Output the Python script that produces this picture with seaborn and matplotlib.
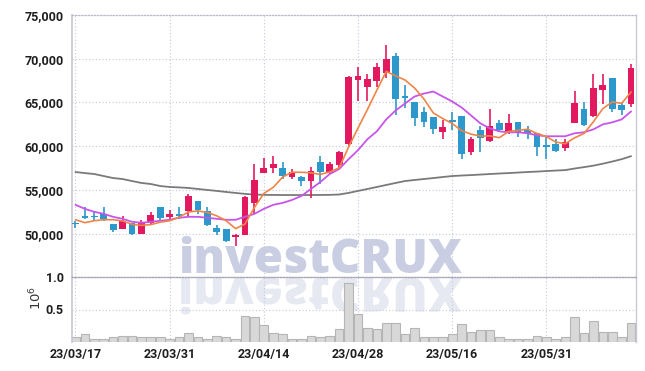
import numpy as np
import pandas as pd
import matplotlib
matplotlib.use("Agg")
import matplotlib.pyplot as plt
import seaborn as sns
from matplotlib.textpath import TextPath
from matplotlib.patches import PathPatch
from matplotlib.font_manager import FontProperties
from matplotlib.transforms import Affine2D, IdentityTransform
from matplotlib.ticker import FuncFormatter

# ---------------- data ----------------
tick_pos = [0, 10, 20, 30, 40, 50]
tick_labels = ["23/03/17", "23/03/31", "23/04/14", "23/04/28", "23/05/16", "23/05/31"]

opens = [51150, 52000, 51950, 52300, 51100, 50500, 51250, 50000, 51250, 53000,
         51950, 52200, 52600, 53700, 52600, 50700, 50550, 49600, 49900, 53500,
         56900, 57500, 57500, 56500, 56500, 56000, 58200, 57100, 57800, 60300,
         67600, 66800, 67500, 68400, 70300, 65700, 65100, 63900, 63300, 61600,
         63000, 63500, 59300, 61900, 60600, 62600, 61600, 62800, 61900, 61500,
         60100, 60200, 59800, 62600, 64300, 63400, 66400, 67800, 64700, 64800]
highs = [51400, 53000, 52600, 53000, 51100, 52000, 51250, 51600, 52500, 53000,
         52700, 53000, 54500, 53700, 53000, 51000, 50550, 50000, 54300, 58000,
         58600, 58900, 58200, 57400, 56600, 57600, 58900, 58200, 59500, 68000,
         69100, 68300, 69500, 71600, 70700, 67000, 65100, 64500, 63300, 63000,
         63900, 63500, 61000, 62300, 64200, 63000, 63700, 62800, 62300, 61500,
         61100, 60800, 60800, 66300, 65000, 68200, 68200, 67800, 65100, 69400]
lows = [50700, 51700, 51400, 51500, 50200, 50500, 49800, 50000, 51000, 51600,
        51700, 51700, 52000, 52300, 50900, 49900, 49100, 48600, 49900, 52300,
        56900, 56900, 56200, 56200, 55500, 54100, 55700, 56800, 57500, 60000,
        65200, 65200, 66800, 67800, 63600, 64400, 62300, 62200, 61400, 60800,
        61900, 58500, 59000, 59300, 60500, 61600, 61400, 61000, 60800, 58900,
        58500, 59300, 59400, 62600, 62300, 63300, 64800, 63900, 63600, 64500]
closes = [51100, 51850, 51900, 51700, 50400, 51400, 50000, 51250, 52150, 51800,
          52200, 52000, 54300, 52700, 51000, 50200, 49200, 49800, 54200, 56100,
          57500, 58000, 56600, 57000, 56000, 57200, 57100, 58000, 59300, 67900,
          68000, 67700, 69100, 70000, 65400, 65550, 63200, 62800, 62000, 62200,
          62800, 59100, 60800, 60900, 62300, 61800, 62600, 61500, 61500, 59900,
          59950, 59500, 60500, 64900, 62400, 66700, 67000, 64300, 64100, 68900]

ma_short = [51600, 51260, 51480, 51600, 51600, 51460, 51080, 50950, 51040, 51320,
            51480, 51880, 52490, 52600, 52440, 52040, 51480, 50580, 51100, 53000,
            54600, 55300, 56480, 57040, 57020, 56960, 56780, 57060, 57520, 59910,
            62070, 64190, 66410, 68550, 68040, 67560, 66660, 65400, 63800, 63160,
            62600, 61780, 61380, 61160, 61180, 60980, 61680, 61820, 61940, 61460,
            61100, 60480, 60280, 60960, 61460, 62800, 64300, 65060, 64900, 66200]
ma_mid = [53300, 52840, 52500, 52270, 51930, 51700, 51360, 51250, 51360, 51480,
          51590, 51820, 51930, 51930, 51820, 51700, 51590, 51590, 51930, 52270,
          52840, 53300, 53520, 53860, 54320, 55110, 55910, 56820, 57390, 58520,
          59550, 60800, 61700, 63070, 64090, 64890, 65680, 66020, 66250, 65680,
          65110, 64430, 63520, 62610, 62040, 61700, 61590, 61590, 61480, 61250,
          61140, 61140, 61140, 61480, 61590, 61930, 62500, 62730, 63070, 63980]
ma_long = [57050, 56930, 56820, 56590, 56360, 56250, 56020, 55800, 55680, 55450,
           55340, 55290, 55230, 55110, 55000, 54890, 54770, 54660, 54550, 54480,
           54440, 54430, 54420, 54420, 54420, 54420, 54430, 54440, 54480, 54660,
           54890, 55110, 55340, 55570, 55800, 56020, 56140, 56250, 56360, 56480,
           56590, 56650, 56700, 56760, 56820, 56880, 56930, 56990, 57050, 57100,
           57160, 57220, 57270, 57450, 57610, 57780, 58000, 58250, 58520, 58860]

volume = [0.08, 0.13, 0.05, 0.05, 0.08, 0.10, 0.10, 0.08, 0.07, 0.07,
          0.05, 0.07, 0.145, 0.08, 0.05, 0.09, 0.07, 0.05, 0.40, 0.38,
          0.26, 0.135, 0.12, 0.05, 0.05, 0.10, 0.07, 0.10, 0.20, 0.91,
          0.43, 0.22, 0.20, 0.30, 0.30, 0.12, 0.21, 0.08, 0.08, 0.07,
          0.12, 0.28, 0.16, 0.18, 0.18, 0.07, 0.05, 0.05, 0.05, 0.10,
          0.08, 0.04, 0.08, 0.39, 0.135, 0.32, 0.16, 0.16, 0.08, 0.30]

# ---------------- style ----------------
sns.set_theme(style="white")
plt.rcParams["font.family"] = ["Roboto", "DejaVu Sans"]

UP = "#e2195f"
DOWN = "#2d98cb"
C_SHORT = "#f08448"
C_MID = "#c855ea"
C_LONG = "#7a7a7a"
GRID = "#c6c7da"
SPINE = "#c9cad4"
TXT = "#1e1e1e"
LBL_W = "bold"

W, H = 645, 371
fig = plt.figure(figsize=(W / 100, H / 100), dpi=100)
L, R = 72, 636
TOP, MID, BOT = 15, 277, 342
ax_p = fig.add_axes([L / W, 1 - MID / H, (R - L) / W, (MID - TOP) / H])
ax_v = fig.add_axes([L / W, 1 - BOT / H, (R - L) / W, (BOT - MID) / H])
ax_v.set_facecolor("none")

n = len(closes)
idx = np.arange(n)
df = pd.DataFrame({"i": idx, "open": opens, "high": highs, "low": lows,
                   "close": closes, "ma_s": ma_short, "ma_m": ma_mid,
                   "ma_l": ma_long, "vol": volume})

xlim = (-0.37, 59.52)

# ---------------- price pane ----------------
ax_p.set_axisbelow(True)
for x in tick_pos:
    ax_p.axvline(x, color=GRID, lw=0.8, ls=(0, (1, 2)), zorder=0.5)
for y in [50000, 55000, 60000, 65000, 70000]:
    ax_p.axhline(y, color=GRID, lw=0.8, ls=(0, (1, 2)), zorder=0.5)

sns.lineplot(data=df, x="i", y="ma_l", color=C_LONG, lw=1.3, ax=ax_p, zorder=2)

up = df["close"] >= df["open"]
cols = np.where(up, UP, DOWN)
ax_p.vlines(df["i"], df["low"], df["high"], colors=cols, lw=1.2, zorder=3)
body_lo = np.minimum(df["open"], df["close"])
body_h = np.maximum(np.abs(df["close"] - df["open"]), 170)
ax_p.bar(df["i"], body_h, bottom=body_lo, width=0.72, color=cols, zorder=4, linewidth=0)

sns.lineplot(data=df, x="i", y="ma_m", color=C_MID, lw=1.3, ax=ax_p, zorder=5)
sns.lineplot(data=df, x="i", y="ma_s", color=C_SHORT, lw=1.2, ax=ax_p, zorder=6)

ax_p.set_xlim(*xlim)
ax_p.set_ylim(45050, 75000)
ax_p.set_yticks([50000, 55000, 60000, 65000, 70000, 75000])
ax_p.yaxis.set_major_formatter(FuncFormatter(lambda v, p: f"{int(v):,}"))
ax_p.set_xticks([])
ax_p.set_xlabel("")
ax_p.set_ylabel("")
ax_p.tick_params(axis="y", length=0, pad=6, labelsize=9, labelcolor=TXT)
for lab in ax_p.get_yticklabels():
    lab.set_fontweight(LBL_W)
ax_p.spines["bottom"].set_visible(False)
ax_p.spines["top"].set_color("#b9bacb")
ax_p.spines["top"].set_linestyle((0, (1, 1.5)))
ax_p.spines["top"].set_linewidth(0.9)
ax_p.spines["left"].set_color(SPINE)
ax_p.spines["left"].set_linewidth(1.3)
ax_p.spines["right"].set_color(SPINE)
ax_p.spines["right"].set_linewidth(1.0)

# ---------------- volume pane ----------------
for x in tick_pos:
    ax_v.axvline(x, color=GRID, lw=0.8, ls=(0, (1, 2)), zorder=0.5)
ax_v.axhline(0.5, color=GRID, lw=0.8, ls=(0, (1, 2)), zorder=0.5)
sns.barplot(data=df, x="i", y="vol", native_scale=True, width=0.92,
            color="#d8d8d8", edgecolor="#b5b5b5", linewidth=0.8,
            saturation=1, ax=ax_v, zorder=2)
ax_v.set_xlim(*xlim)
ax_v.set_ylim(0, 1.0)
ax_v.set_yticks([0.5, 1.0])
ax_v.set_yticklabels(["0.5", "1.0"])
ax_v.set_xticks(tick_pos)
ax_v.set_xticklabels(tick_labels)
ax_v.set_xlabel("")
ax_v.set_ylabel("")
ax_v.tick_params(axis="both", length=0, labelsize=9, labelcolor=TXT)
ax_v.tick_params(axis="y", pad=6)
ax_v.tick_params(axis="x", pad=4)
for lab in ax_v.get_yticklabels() + ax_v.get_xticklabels():
    lab.set_fontweight(LBL_W)
ax_v.spines["bottom"].set_visible(False)
ax_v.spines["top"].set_color("#a4a4b4")
ax_v.spines["top"].set_linestyle((0, (1, 1.2)))
ax_v.spines["top"].set_linewidth(1.0)
ax_v.spines["left"].set_color(SPINE)
ax_v.spines["left"].set_linewidth(1.3)
ax_v.spines["right"].set_color(SPINE)
ax_v.spines["right"].set_linewidth(1.0)

fig.text(36 / W, 1 - 298 / H, r"$10^{6}$", rotation=90, ha="center", va="center",
         fontsize=9.5, color="#333333")

# ---------------- watermark ----------------
wm = "investCRUX"
wm_fp = FontProperties(family="Open Sans", weight="heavy")
x0, base = 178, 273
target_w = 284
renderer = fig.canvas.get_renderer()
t = ax_p.text(x0 / W, 1 - base / H, wm, transform=fig.transFigure, fontproperties=wm_fp,
              fontsize=36, color="#c9cee3", va="baseline", ha="left",
              zorder=0.3, clip_on=False)
bb = t.get_window_extent(renderer)
fs = 36 * target_w / bb.width
t.set_fontsize(fs)

em_px = fs * 100 / 72
tp = TextPath((0, 0), wm, size=em_px, prop=wm_fp)
tr = Affine2D().scale(1, -1).translate(x0, H - (base + 5))
refl = PathPatch(tp, transform=tr + IdentityTransform(), facecolor="#e7e9f2",
                 edgecolor="none", zorder=0.3, clip_on=False)
ax_p.add_artist(refl)

fig.savefig("out.png", dpi=100)
